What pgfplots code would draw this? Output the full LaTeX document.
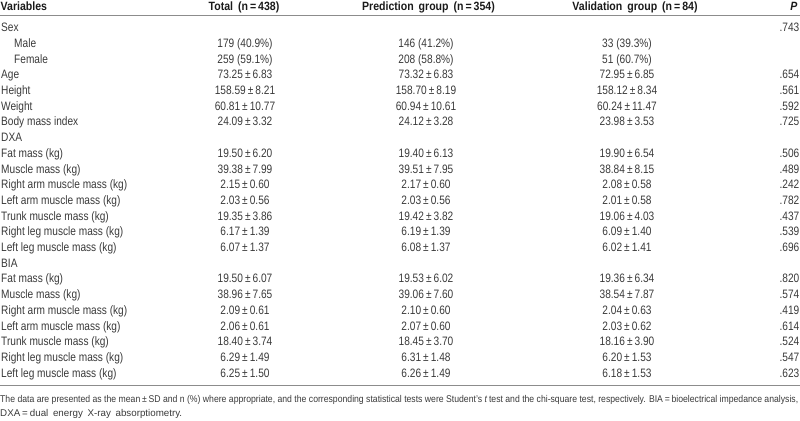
\documentclass[border=0pt]{standalone}
\usepackage{fontspec}
\usepackage{graphicx}
\setmainfont{Liberation Sans}[FakeStretch=0.83]
\newfontfamily\hdrfont{Liberation Sans}[FakeStretch=0.88]
\usepackage{pgfplots}
\pgfplotsset{compat=1.18}
\definecolor{txt}{HTML}{3A3A3A}
\definecolor{hdr}{HTML}{1A1A1A}
\definecolor{rule}{HTML}{8C8C8C}
\newcommand{\PM}{\,±\,}
\newcommand{\eq}{\,=\,}
\begin{document}
\fontsize{12.2bp}{14bp}\selectfont
\begin{tikzpicture}
\begin{axis}[hide axis, scale only axis, width=800bp, height=420bp,
  xmin=0, xmax=800, ymin=0, ymax=420, y dir=reverse, clip=false,
  every axis plot/.append style={draw=none, mark=none, nodes near coords, point meta=explicit symbolic},
  nodes near coords style={inner sep=0pt, text=txt, font=\fontsize{12.2bp}{14bp}\selectfont}]
% Variables
\addplot[every node near coord/.append style={anchor=base west}] coordinates {
(1,31.7) [Sex]
(14,47.4) [Male]
(14,63.1) [Female]
(1,78.8) [Age]
(1,94.5) [Height]
(1,110.2) [Weight]
(1,125.9) [Body mass index]
(1,141.6) [DXA]
(1,157.3) [Fat mass (kg)]
(1,173.0) [Muscle mass (kg)]
(1,188.7) [Right arm muscle mass (kg)]
(1,204.4) [Left arm muscle mass (kg)]
(1,220.1) [Trunk muscle mass (kg)]
(1,235.8) [Right leg muscle mass (kg)]
(1,251.5) [Left leg muscle mass (kg)]
(1,267.2) [BIA]
(1,282.9) [Fat mass (kg)]
(1,298.6) [Muscle mass (kg)]
(1,314.3) [Right arm muscle mass (kg)]
(1,330.0) [Left arm muscle mass (kg)]
(1,345.7) [Trunk muscle mass (kg)]
(1,361.4) [Right leg muscle mass (kg)]
(1,377.1) [Left leg muscle mass (kg)]
};
% Total
\addplot[every node near coord/.append style={anchor=base}] coordinates {
(245,47.4) [{179 (40.9\%)}]
(245,63.1) [{259 (59.1\%)}]
(245,78.8) [73.25\PM6.83]
(245,94.5) [158.59\PM8.21]
(245,110.2) [60.81\PM10.77]
(245,125.9) [24.09\PM3.32]
(245,157.3) [19.50\PM6.20]
(245,173.0) [39.38\PM7.99]
(245,188.7) [2.15\PM0.60]
(245,204.4) [2.03\PM0.56]
(245,220.1) [19.35\PM3.86]
(245,235.8) [6.17\PM1.39]
(245,251.5) [6.07\PM1.37]
(245,282.9) [19.50\PM6.07]
(245,298.6) [38.96\PM7.65]
(245,314.3) [2.09\PM0.61]
(245,330.0) [2.06\PM0.61]
(245,345.7) [18.40\PM3.74]
(245,361.4) [6.29\PM1.49]
(245,377.1) [6.25\PM1.50]
};
% Prediction
\addplot[every node near coord/.append style={anchor=base}] coordinates {
(426,47.4) [{146 (41.2\%)}]
(426,63.1) [{208 (58.8\%)}]
(426,78.8) [73.32\PM6.83]
(426,94.5) [158.70\PM8.19]
(426,110.2) [60.94\PM10.61]
(426,125.9) [24.12\PM3.28]
(426,157.3) [19.40\PM6.13]
(426,173.0) [39.51\PM7.95]
(426,188.7) [2.17\PM0.60]
(426,204.4) [2.03\PM0.56]
(426,220.1) [19.42\PM3.82]
(426,235.8) [6.19\PM1.39]
(426,251.5) [6.08\PM1.37]
(426,282.9) [19.53\PM6.02]
(426,298.6) [39.06\PM7.60]
(426,314.3) [2.10\PM0.60]
(426,330.0) [2.07\PM0.60]
(426,345.7) [18.45\PM3.70]
(426,361.4) [6.31\PM1.48]
(426,377.1) [6.26\PM1.49]
};
% Validation
\addplot[every node near coord/.append style={anchor=base}] coordinates {
(627,47.4) [{33 (39.3\%)}]
(627,63.1) [{51 (60.7\%)}]
(627,78.8) [72.95\PM6.85]
(627,94.5) [158.12\PM8.34]
(627,110.2) [60.24\PM11.47]
(627,125.9) [23.98\PM3.53]
(627,157.3) [19.90\PM6.54]
(627,173.0) [38.84\PM8.15]
(627,188.7) [2.08\PM0.58]
(627,204.4) [2.01\PM0.58]
(627,220.1) [19.06\PM4.03]
(627,235.8) [6.09\PM1.40]
(627,251.5) [6.02\PM1.41]
(627,282.9) [19.36\PM6.34]
(627,298.6) [38.54\PM7.87]
(627,314.3) [2.04\PM0.63]
(627,330.0) [2.03\PM0.62]
(627,345.7) [18.16\PM3.90]
(627,361.4) [6.20\PM1.53]
(627,377.1) [6.18\PM1.53]
};
% P
\addplot[every node near coord/.append style={anchor=base east}] coordinates {
(799.5,31.7) [.743]
(799.5,78.8) [.654]
(799.5,94.5) [.561]
(799.5,110.2) [.592]
(799.5,125.9) [.725]
(799.5,157.3) [.506]
(799.5,173.0) [.489]
(799.5,188.7) [.242]
(799.5,204.4) [.782]
(799.5,220.1) [.437]
(799.5,235.8) [.539]
(799.5,251.5) [.696]
(799.5,282.9) [.820]
(799.5,298.6) [.574]
(799.5,314.3) [.419]
(799.5,330.0) [.614]
(799.5,345.7) [.524]
(799.5,361.4) [.547]
(799.5,377.1) [.623]
};
% header
\begin{scope}[every node/.style={inner sep=0pt, text=hdr, font=\hdrfont\fontsize{12bp}{14bp}\selectfont\bfseries}]
\node[anchor=base west] at (axis cs:0.5,10) {Variables};
\node[anchor=base] at (axis cs:244,10) {Total\, (n\eq438)};
\node[anchor=base] at (axis cs:428.5,10) {Prediction\, group\, (n\eq354)};
\node[anchor=base] at (axis cs:635,10) {Validation\, group\, (n\eq84)};
\node[anchor=base east] at (axis cs:797.5,10) {\itshape P};
\end{scope}
\draw[rule, line width=1.6bp] (axis cs:0,15.5) -- (axis cs:800,15.5);
\draw[rule, line width=1.6bp] (axis cs:0,385.5) -- (axis cs:800,385.5);
\begin{scope}[every node/.style={inner sep=0pt, text=txt, font=\fontsize{9.8bp}{12bp}\selectfont}]
\node[anchor=base west] at (axis cs:0,402.8) {\resizebox{798bp}{\height}{The data are presented as the mean\PM SD and n (\%) where appropriate, and the corresponding statistical tests were Student’s \textit{t}\,test and the chi-square test, respectively. BIA\eq bioelectrical impedance analysis,}};
\node[anchor=base west] at (axis cs:0,416) {\resizebox{182bp}{\height}{DXA\eq dual\ \,energy\ \,X-ray\ \,absorptiometry.}};
\end{scope}
\end{axis}
\pgfresetboundingbox
\path (current axis.south west) rectangle (current axis.north east);
\end{tikzpicture}
\end{document}
